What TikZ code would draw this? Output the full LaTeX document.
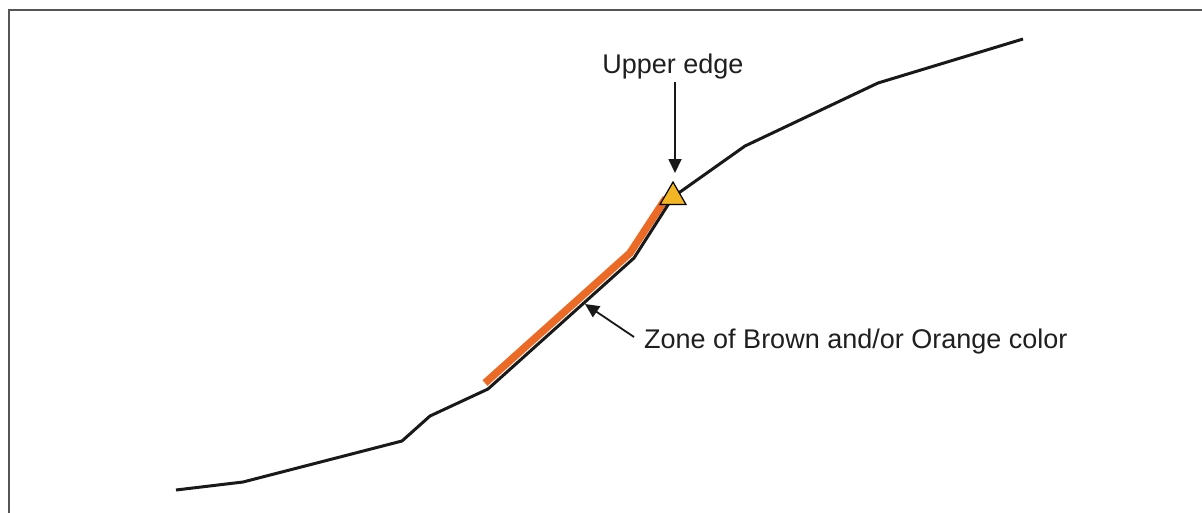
\documentclass[tikz,border=0pt]{standalone}
\usepackage{fontspec}
\setmainfont{Liberation Sans}
\usetikzlibrary{shapes.geometric,arrows.meta}
\definecolor{zoneorange}{HTML}{EB6A25}
\definecolor{edgegold}{HTML}{F2B523}
\definecolor{framegray}{HTML}{555555}
\begin{document}
\begin{tikzpicture}[x=1pt,y=-1pt,
  profile/.style={line width=3pt,black!90,line join=miter},
  zone/.style={line width=7.5pt,zoneorange},
  pointer/.style={line width=1.8pt,black!90,-{Triangle[length=14pt,width=13pt]}},
  label/.style={font=\fontsize{27}{32}\selectfont,text=black!88,inner sep=0pt},
  edgemark/.style={regular polygon,regular polygon sides=3,minimum size=30pt,inner sep=0pt,draw=black,line width=1.2pt,fill=edgegold}]
\useasboundingbox (0,0) rectangle (1202,512);
\fill[white] (0,0) rectangle (1202,512);
\draw[framegray,line width=2pt] (9,513) -- (9,10) -- (1203,10);
% profile points
\coordinate (p1) at (176,490);
\coordinate (p2) at (243,482);
\coordinate (p3) at (402,441);
\coordinate (p4) at (430,416);
\coordinate (p5) at (488,389);
\coordinate (p6) at (634,258);
\coordinate (p7) at (673,197);
\coordinate (p8) at (745,146);
\coordinate (p9) at (878,83);
\coordinate (p10) at (1023,39);
% orange zone
\coordinate (z1) at (485,383);
\coordinate (z2) at (630,253);
\coordinate (z3) at (666,198);
\draw[zone] (z1) -- (z2) -- (z3);
\draw[profile] (p1) -- (p2) -- (p3) -- (p4) -- (p5) -- (p6) -- (p7) -- (p8) -- (p9) -- (p10);
\node[edgemark] (tri) at (673,197) {};
% labels
\node[label] (upper) at (673,67) {Upper edge};
\coordinate (upstart) at (675,82);
\coordinate (uptip) at (675,173);
\draw[pointer] (upstart) -- (uptip);
\node[label,anchor=west] (zonelbl) at (644,342) {Zone of Brown and/or Orange color};
\coordinate (zstart) at (634,337);
\coordinate (ztip) at (585,304);
\draw[pointer] (zstart) -- (ztip);
\end{tikzpicture}
\end{document}
